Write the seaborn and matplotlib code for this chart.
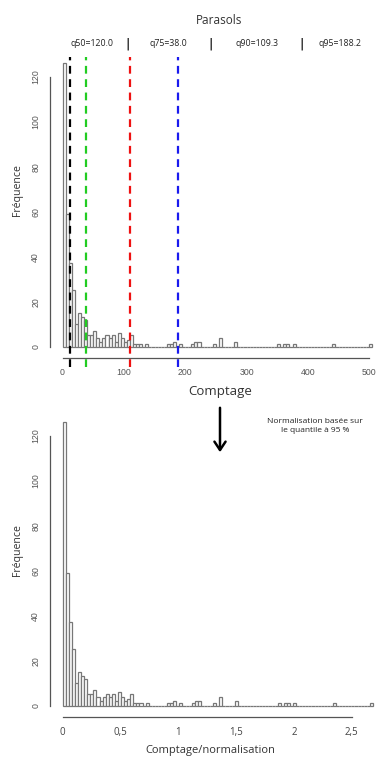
import numpy as np
import pandas as pd
import matplotlib
matplotlib.use('Agg')
import matplotlib.pyplot as plt
import seaborn as sns

# histogram counts, bins of width 5 on the raw counts (0..505)
bin_width = 5
counts = [126, 59, 37, 25, 10, 15, 13, 12, 5, 5,
          7, 4, 2, 4, 5, 4, 5, 2, 6, 4,
          2, 3, 5, 1, 1, 1, 0, 1, 0, 0,
          0, 0, 0, 0, 1, 1, 2, 0, 1, 0,
          0, 0, 1, 2, 2, 0, 0, 0, 0, 1,
          0, 4, 0, 0, 0, 0, 2, 0, 0, 0,
          0, 0, 0, 0, 0, 0, 0, 0, 0, 0,
          1, 0, 1, 1, 0, 1, 0, 0, 0, 0,
          0, 0, 0, 0, 0, 0, 0, 0, 1, 0,
          0, 0, 0, 0, 0, 0, 0, 0, 0, 0,
          1]
q_names = ['q50', 'q75', 'q90', 'q95']
q_values = [12.0, 38.0, 109.3, 188.2]
q_labels = ['q50=120.0', 'q75=38.0', 'q90=109.3', 'q95=188.2']
q_colors = ['black', '#22cc22', '#ee1111', '#1a1aee']
norm_q = 188.2

top_xticks = [0, 100, 200, 300, 400, 500]
bot_xticks = [0, 0.5, 1, 1.5, 2, 2.5]
bot_xticklabels = ['0', '0,5', '1', '1,5', '2', '2,5']
yticks = [0, 20, 40, 60, 80, 100, 120]

edges = [i * bin_width for i in range(len(counts) + 1)]
df = pd.DataFrame({'comptage': [e + bin_width / 2 for e in edges[:-1]], 'n': counts})
df['norm'] = df['comptage'] / norm_q

W, H = 379, 757
sns.set_style('white')
plt.rcParams['font.family'] = ['Open Sans', 'DejaVu Sans']
fig = plt.figure(figsize=(W / 100, H / 100), dpi=100)

def box(l, t, r, b):
    return [l / W, 1 - b / H, (r - l) / W, (b - t) / H]

txt = '#333333'
axc = '#555555'
bar_edge = '#777777'

def style_axis(ax, xmax_tick):
    for s in ['top', 'right']:
        ax.spines[s].set_visible(False)
    ax.spines['left'].set_bounds(0, 120)
    ax.spines['bottom'].set_bounds(0, xmax_tick)
    for s in ['left', 'bottom']:
        ax.spines[s].set_color(axc)
        ax.spines[s].set_linewidth(0.9)
    ax.set_yticks(yticks)
    ax.set_yticklabels([str(v) for v in yticks], rotation=90, va='center',
                       fontsize=6.3, color='#555555', family='Liberation Sans')
    ax.tick_params(axis='both', length=4, width=0.9, color=axc, pad=3)
    ax.set_xlabel('')
    ax.set_ylabel('')

# --- top histogram ---
ax1 = fig.add_axes(box(50, 52, 379, 358))
sns.histplot(data=df, x='comptage', weights='n', bins=edges, ax=ax1,
             color='white', edgecolor=bar_edge, linewidth=0.9, alpha=1)
ax1.set_xlim(-20.4, 516)
ax1.set_ylim(-5.04, 131.04)
style_axis(ax1, 500)
ax1.set_xticks(top_xticks)
ax1.set_xticklabels([str(v) for v in top_xticks], fontsize=6.3, color='#555555',
                    family='Liberation Sans')
for v, c in zip(q_values, q_colors):
    ax1.axvline(v, ymin=-0.03, ymax=0.985, color=c, lw=1.6,
                linestyle=(0, (3.5, 2.5)), clip_on=False)

fig.text(219 / W, 1 - 20 / H, 'Parasols', ha='center', va='center',
         fontsize=8.5, color=txt)
lab_x = [92, 168, 257, 340]
for x, s in zip(lab_x, q_labels):
    fig.text(x / W, 1 - 44 / H, s, ha='center', va='center', fontsize=6.3, color='#222222')
for x in [128, 211, 302]:
    fig.text(x / W, 1 - 44 / H, '|', ha='center', va='center', fontsize=9.5,
             color='black', family='DejaVu Sans')
fig.text(18 / W, 1 - 190 / H, 'Fréquence', rotation=90, ha='center', va='center',
         fontsize=7.6, color=txt)
fig.text(220 / W, 1 - 392 / H, 'Comptage', ha='center', va='center',
         fontsize=9.5, color=txt)

# arrow and note
fig.add_artist(matplotlib.patches.FancyArrowPatch(
    (220 / W, 1 - 405 / H), (220 / W, 1 - 455 / H), transform=fig.transFigure,
    arrowstyle='->,head_length=6,head_width=4', lw=1.8, color='black'))
fig.text(315 / W, 1 - 426 / H, 'Normalisation basée sur\nle quantile à 95 %',
         ha='center', va='center', fontsize=6, color='#222222', linespacing=1.3)

# --- bottom histogram ---
ax2 = fig.add_axes(box(50, 411, 379, 717))
sns.histplot(data=df, x='norm', weights='n', bins=[e / norm_q for e in edges], ax=ax2,
             color='white', edgecolor=bar_edge, linewidth=0.9, alpha=1)
ax2.set_xlim(-0.11, 2.736)
ax2.set_ylim(-5.04, 131.04)
style_axis(ax2, 2.5)
ax2.set_xticks(bot_xticks)
ax2.set_xticklabels(bot_xticklabels, fontsize=7, color='#444444')
fig.text(18 / W, 1 - 550 / H, 'Fréquence', rotation=90, ha='center', va='center',
         fontsize=7.6, color=txt)
fig.text(210 / W, 1 - 750 / H, 'Comptage/normalisation', ha='center', va='center',
         fontsize=8, color=txt)

fig.savefig('out.png', dpi=100)
